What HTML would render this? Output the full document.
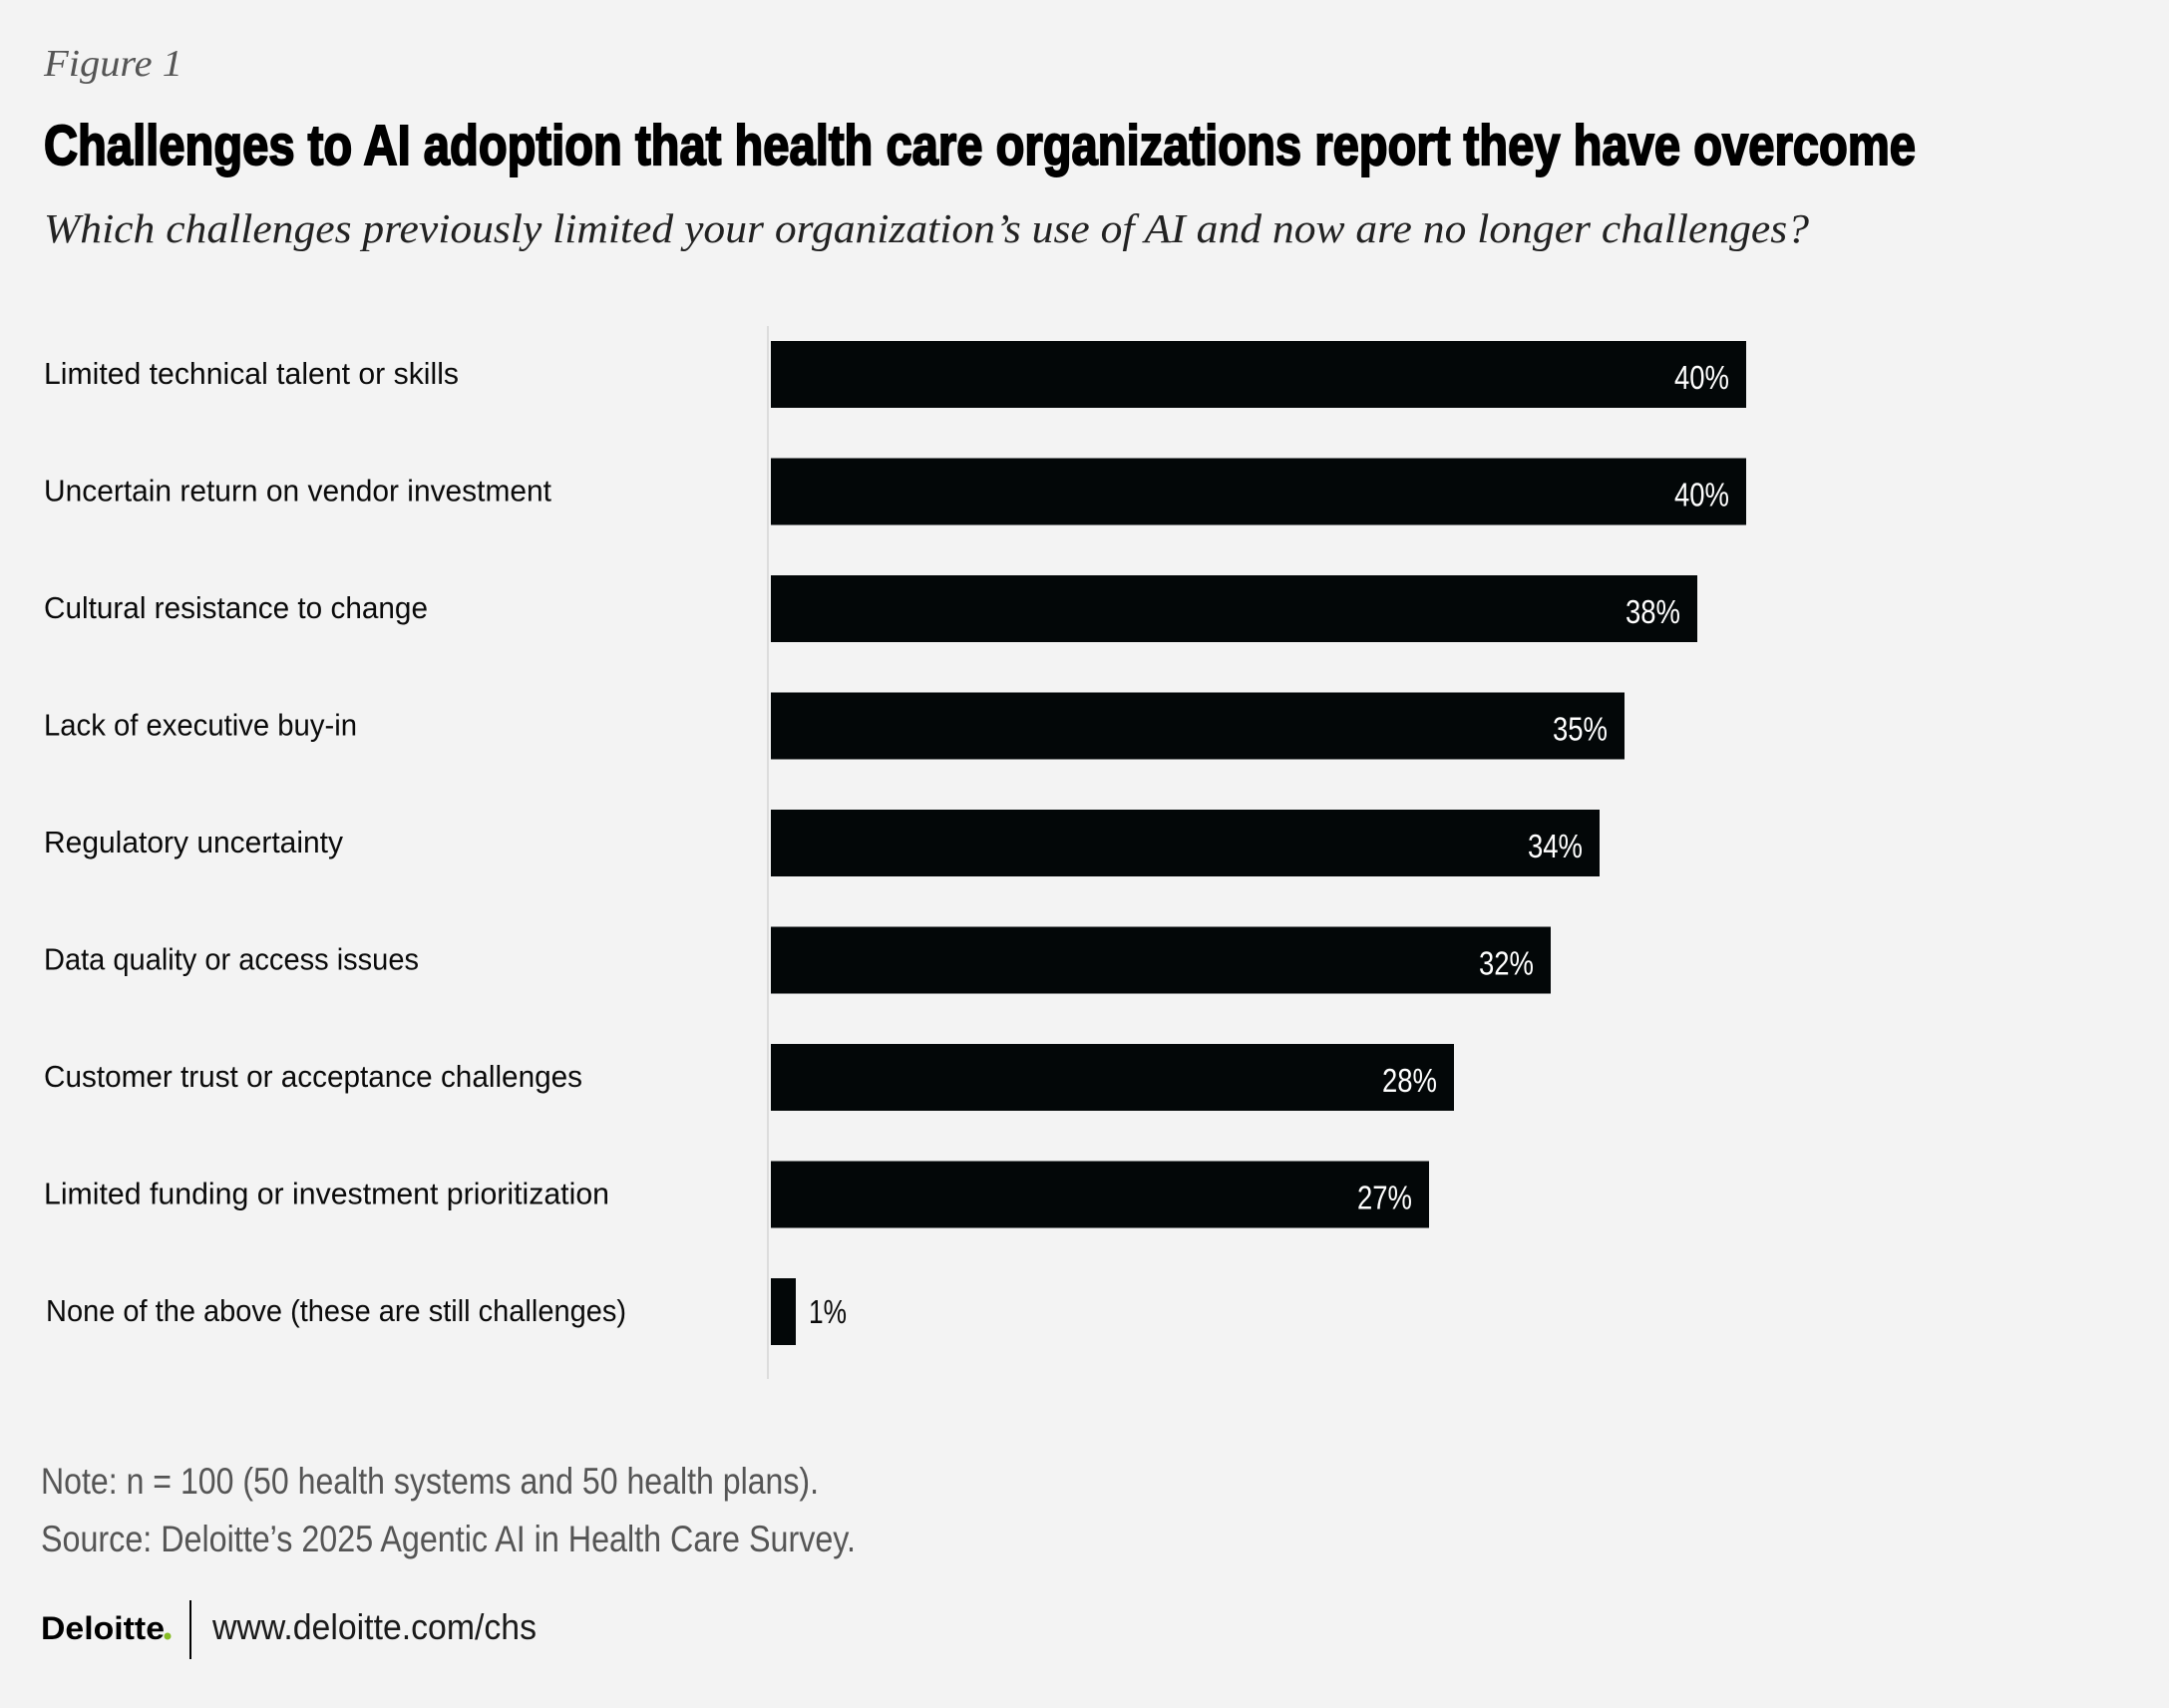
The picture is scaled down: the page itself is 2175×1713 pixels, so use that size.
<!DOCTYPE html>
<html><head><meta charset="utf-8"><style>
html,body{margin:0;padding:0;background:#f3f3f3;}
svg{display:block}
.lab{font-family:"Liberation Sans Narrow","Liberation Sans",sans-serif;font-size:31px;fill:#0a0a0a}
.val{font-family:"Liberation Sans Narrow","Liberation Sans",sans-serif;font-size:33px;fill:#fff}
</style></head><body>
<svg width="2175" height="1713" viewBox="0 0 2175 1713" xmlns="http://www.w3.org/2000/svg">
<rect width="2175" height="1713" fill="#f3f3f3"/>
<text x="44" y="76" font-family="Liberation Serif,serif" font-style="italic" font-size="38" fill="#555" textLength="139" lengthAdjust="spacingAndGlyphs">Figure 1</text>
<text x="44" y="165" font-family="Liberation Sans Narrow,Liberation Sans,sans-serif" font-weight="bold" font-size="57" fill="#000" stroke="#000" stroke-width="2" textLength="1877" lengthAdjust="spacingAndGlyphs">Challenges to AI adoption that health care organizations report they have overcome</text>
<text x="44" y="243" font-family="Liberation Serif,serif" font-style="italic" font-size="41" fill="#222" textLength="1770" lengthAdjust="spacingAndGlyphs">Which challenges previously limited your organization’s use of AI and now are no longer challenges?</text>
<line x1="770" y1="327" x2="770" y2="1383" stroke="#dcdcdc" stroke-width="2"/>
<g fill="#030708">
<rect x="773" y="342" width="978" height="67"/>
<rect x="773" y="459.5" width="978" height="67"/>
<rect x="773" y="577" width="929" height="67"/>
<rect x="773" y="694.5" width="856" height="67"/>
<rect x="773" y="812" width="831" height="67"/>
<rect x="773" y="929.5" width="782" height="67"/>
<rect x="773" y="1047" width="685" height="67"/>
<rect x="773" y="1164.5" width="660" height="67"/>
<rect x="773" y="1282" width="25" height="67"/>
</g>
<g class="lab">
<text x="44" y="385" class="lab" textLength="416" lengthAdjust="spacingAndGlyphs">Limited technical talent or skills</text>
<text x="44" y="502.5" class="lab" textLength="509" lengthAdjust="spacingAndGlyphs">Uncertain return on vendor investment</text>
<text x="44" y="620" class="lab" textLength="385" lengthAdjust="spacingAndGlyphs">Cultural resistance to change</text>
<text x="44" y="737.5" class="lab" textLength="314" lengthAdjust="spacingAndGlyphs">Lack of executive buy-in</text>
<text x="44" y="855" class="lab" textLength="300" lengthAdjust="spacingAndGlyphs">Regulatory uncertainty</text>
<text x="44" y="972.5" class="lab" textLength="376" lengthAdjust="spacingAndGlyphs">Data quality or access issues</text>
<text x="44" y="1090" class="lab" textLength="540" lengthAdjust="spacingAndGlyphs">Customer trust or acceptance challenges</text>
<text x="44" y="1207.5" class="lab" textLength="567" lengthAdjust="spacingAndGlyphs">Limited funding or investment prioritization</text>
<text x="46" y="1325" class="lab" textLength="582" lengthAdjust="spacingAndGlyphs">None of the above (these are still challenges)</text>
</g>
<g class="val" text-anchor="end">
<text x="1734" y="390" class="val" textLength="55" lengthAdjust="spacingAndGlyphs">40%</text>
<text x="1734" y="507.5" class="val" textLength="55" lengthAdjust="spacingAndGlyphs">40%</text>
<text x="1685" y="625" class="val" textLength="55" lengthAdjust="spacingAndGlyphs">38%</text>
<text x="1612" y="742.5" class="val" textLength="55" lengthAdjust="spacingAndGlyphs">35%</text>
<text x="1587" y="860" class="val" textLength="55" lengthAdjust="spacingAndGlyphs">34%</text>
<text x="1538" y="977.5" class="val" textLength="55" lengthAdjust="spacingAndGlyphs">32%</text>
<text x="1441" y="1095" class="val" textLength="55" lengthAdjust="spacingAndGlyphs">28%</text>
<text x="1416" y="1212.5" class="val" textLength="55" lengthAdjust="spacingAndGlyphs">27%</text>
</g>
<text x="811" y="1327" class="val" style="fill:#0a0a0a" textLength="38" lengthAdjust="spacingAndGlyphs">1%</text>
<text x="41" y="1498" font-family="Liberation Sans Narrow,Liberation Sans,sans-serif" font-size="37" fill="#555" textLength="780" lengthAdjust="spacingAndGlyphs">Note: n = 100 (50 health systems and 50 health plans).</text>
<text x="41" y="1556" font-family="Liberation Sans Narrow,Liberation Sans,sans-serif" font-size="37" fill="#555" textLength="817" lengthAdjust="spacingAndGlyphs">Source: Deloitte’s 2025 Agentic AI in Health Care Survey.</text>
<text x="41" y="1644" font-family="Liberation Sans,sans-serif" font-weight="bold" font-size="32" fill="#000" textLength="124" lengthAdjust="spacingAndGlyphs">Deloitte</text>
<circle cx="168" cy="1641" r="3.5" fill="#86bc25"/>
<line x1="191" y1="1605" x2="191" y2="1664" stroke="#000" stroke-width="2"/>
<text x="213" y="1644" font-family="Liberation Sans Narrow,Liberation Sans,sans-serif" font-size="36" fill="#1a1a1a" textLength="325" lengthAdjust="spacingAndGlyphs">www.deloitte.com/chs</text>
</svg>
</body></html>
